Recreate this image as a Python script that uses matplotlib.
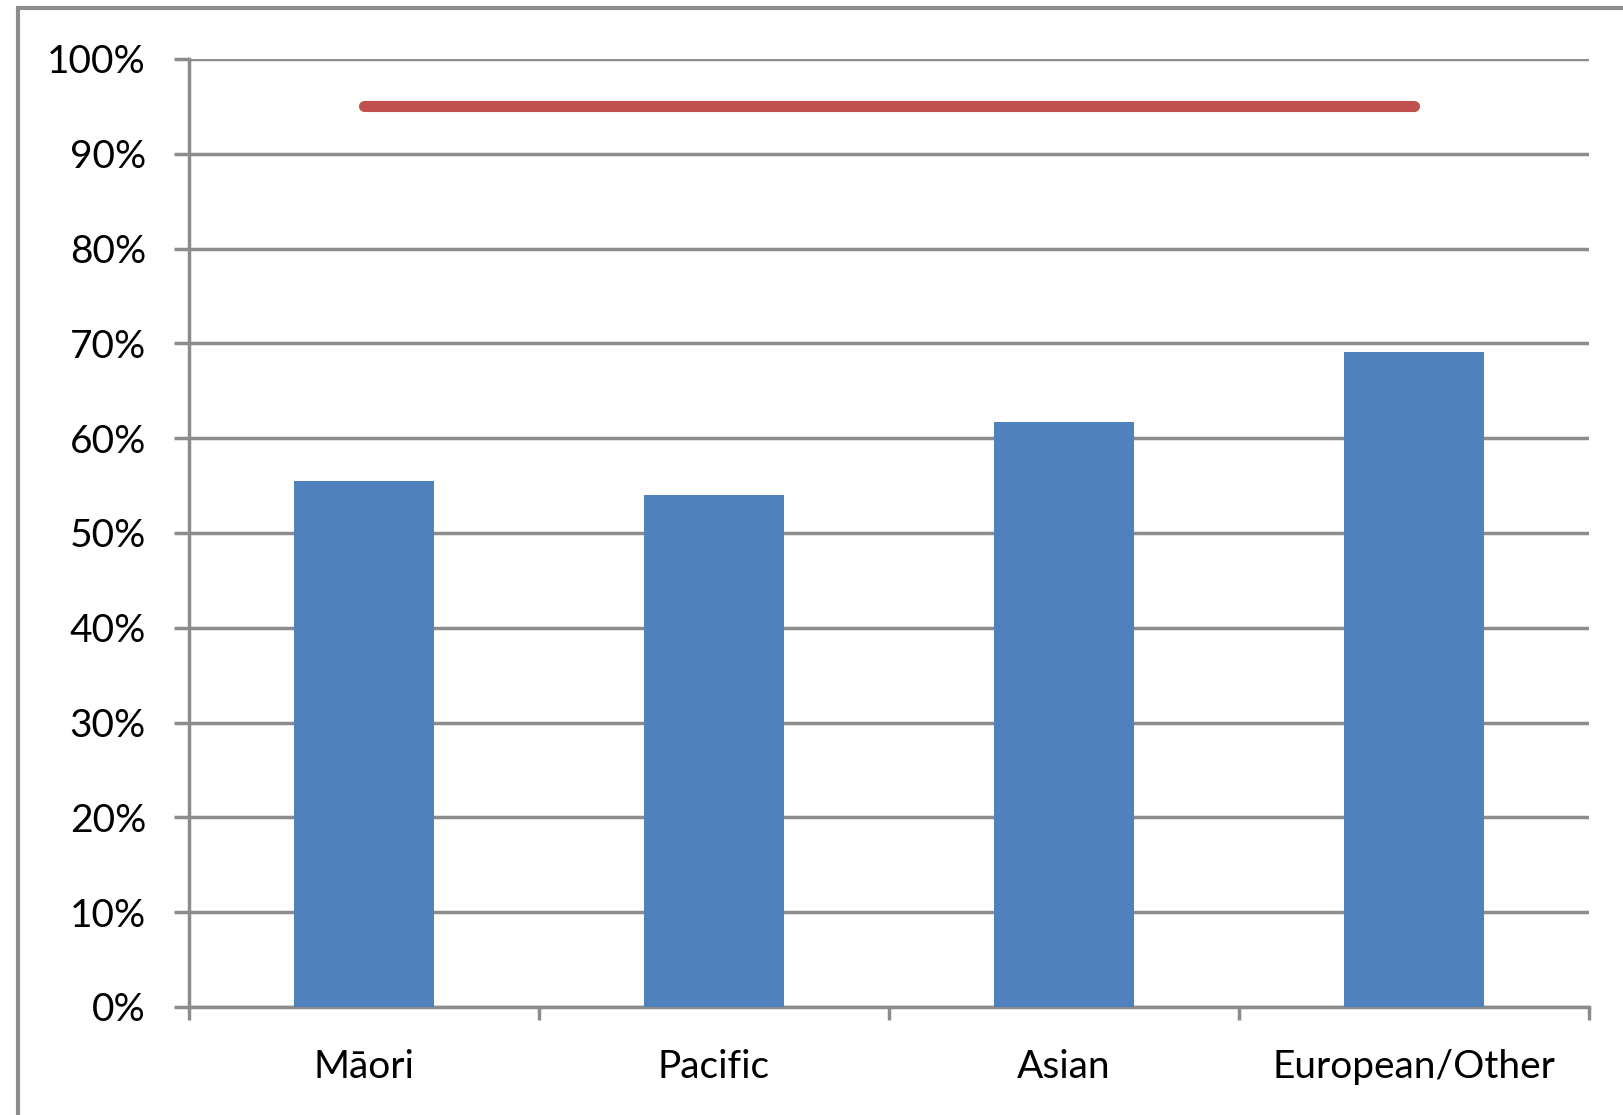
import matplotlib.pyplot as plt
from matplotlib.patches import Rectangle
import numpy as np

categories = ["Māori", "Pacific", "Asian", "European/Other"]
values = [55.5, 54.0, 61.7, 69.1]
target = 95
yticks = [0, 10, 20, 30, 40, 50, 60, 70, 80, 90, 100]

plt.rcParams['font.family'] = ['Lato', 'DejaVu Sans']

fig = plt.figure(figsize=(16.23, 11.15), dpi=100)
ax = fig.add_axes([0.1165, 0.0969, 0.8625, 0.8502])

# outer chart border, runs off the right and bottom edges
fig.patches.append(Rectangle((0.011, -0.1), 1.2, 1.093, transform=fig.transFigure,
                             fill=False, edgecolor='#8c8c8c', linewidth=3))

x = np.arange(len(categories))
ax.bar(x, values, width=0.4, color='#4f81bd', zorder=3)
ax.plot([x[0], x[-1]], [target, target], color='#c0504d', linewidth=8,
        solid_capstyle='round', zorder=4)

ax.set_xlim(-0.5, len(categories) - 0.5)
ax.set_ylim(0, 100)
ax.set_yticks(yticks)
ax.set_yticklabels([f"{t}%" for t in yticks], fontsize=28)
ax.set_xticks(x)
ax.set_xticklabels(categories, fontsize=28)
ax.set_xticks(np.arange(len(categories) + 1) - 0.5, minor=True)
ax.tick_params(axis='x', which='major', length=0, pad=30)
ax.tick_params(axis='x', which='minor', length=9, width=2.5, color='#8c8c8c')
ax.tick_params(axis='y', length=11, width=2.5, color='#8c8c8c', pad=20)

ax.grid(axis='y', color='#8c8c8c', linewidth=2.5, zorder=1)
for s in ['top', 'right']:
    ax.spines[s].set_visible(False)
for s in ['left', 'bottom']:
    ax.spines[s].set_color('#8c8c8c')
    ax.spines[s].set_linewidth(2.5)

fig.savefig("out.png", dpi=100)
